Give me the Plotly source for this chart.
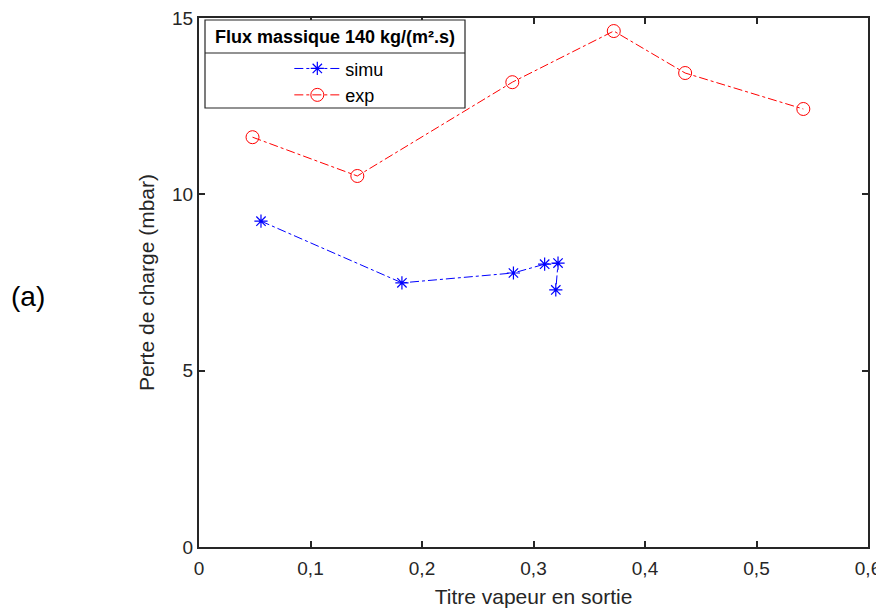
import plotly.graph_objects as go

simu_x = [0.0556, 0.182, 0.282, 0.310, 0.322, 0.320]
simu_y = [9.24, 7.49, 7.77, 8.02, 8.05, 7.29]
exp_x = [0.048, 0.142, 0.281, 0.372, 0.436, 0.542]
exp_y = [11.62, 10.52, 13.18, 14.63, 13.44, 12.42]
x_ticks = [0, 0.1, 0.2, 0.3, 0.4, 0.5, 0.6]
x_ticklabels = ["0", "0,1", "0,2", "0,3", "0,4", "0,5", "0,6"]
y_ticks = [0, 5, 10, 15]

FONT = "Liberation Sans, Arial, sans-serif"
AX = "#262626"

fig = go.Figure()
fig.add_trace(go.Scatter(
    x=simu_x, y=simu_y, name="simu", mode="lines+markers",
    line=dict(color="#0000ff", width=1, dash="dashdot"),
    marker=dict(symbol="asterisk-open", size=11, color="#0000ff",
                line=dict(color="#0000ff", width=1.2)),
))
fig.add_trace(go.Scatter(
    x=exp_x, y=exp_y, name="exp", mode="lines+markers",
    line=dict(color="#ff0000", width=1, dash="dashdot"),
    marker=dict(symbol="circle-open", size=13, color="#ff0000",
                line=dict(color="#ff0000", width=1)),
))

axis_common = dict(
    showline=True, linecolor=AX, linewidth=2, mirror="ticks",
    ticks="inside", ticklen=6, tickwidth=2, tickcolor=AX,
    showgrid=False, zeroline=False, automargin=False,
    ticklabeloverflow="allow",
    tickfont=dict(family=FONT, size=19, color=AX),
)

fig.update_layout(
    width=876, height=601,
    margin=dict(l=191, r=16, t=10, b=62, autoexpand=False),
    paper_bgcolor="white", plot_bgcolor="white",
    font=dict(family=FONT, color=AX),
    xaxis=dict(range=[0, 0.6], tickvals=x_ticks, ticktext=x_ticklabels,
               ticklabelstandoff=3,
               title=dict(text="Titre vapeur en sortie", standoff=12,
                          font=dict(family=FONT, size=21, color=AX)),
               **axis_common),
    yaxis=dict(range=[0, 15], tickvals=y_ticks,
               title=dict(text="Perte de charge (mbar)", standoff=12,
                          font=dict(family=FONT, size=21, color=AX)),
               **axis_common),
    showlegend=True,
    legend=dict(
        x=0.135, y=0.939, xanchor="left", yanchor="top",
        bgcolor="rgba(0,0,0,0)", borderwidth=0,
        font=dict(family=FONT, size=18, color="black"),
        itemwidth=46, tracegroupgap=0,
    ),
)

# legend box with title section
x0 = (205 - 199) / 669
x1 = (465 - 199) / 669
y_top = (547 - 20) / 529
y_sep = (547 - 53) / 529
y_bot = (547 - 108) / 529
fig.add_shape(type="rect", xref="paper", yref="paper", x0=x0, x1=x1,
              y0=y_bot, y1=y_top, line=dict(color=AX, width=1.2),
              fillcolor="white", layer="above")
fig.add_shape(type="line", xref="paper", yref="paper", x0=x0, x1=x1,
              y0=y_sep, y1=y_sep, line=dict(color=AX, width=1.2), layer="above")
fig.add_annotation(xref="paper", yref="paper", x=(x0 + x1) / 2, y=(y_top + y_sep) / 2,
                   text="<b>Flux massique 140 kg/(m².s)</b>", showarrow=False,
                   font=dict(family=FONT, size=18, color="black"),
                   xanchor="center", yanchor="middle")

fig.add_annotation(xref="paper", yref="paper", x=-0.2556, y=(547 - 297) / 529,
                   text="(a)", showarrow=False,
                   font=dict(family=FONT, size=28, color="black"),
                   xanchor="center", yanchor="middle")

fig.write_html("out.html")
